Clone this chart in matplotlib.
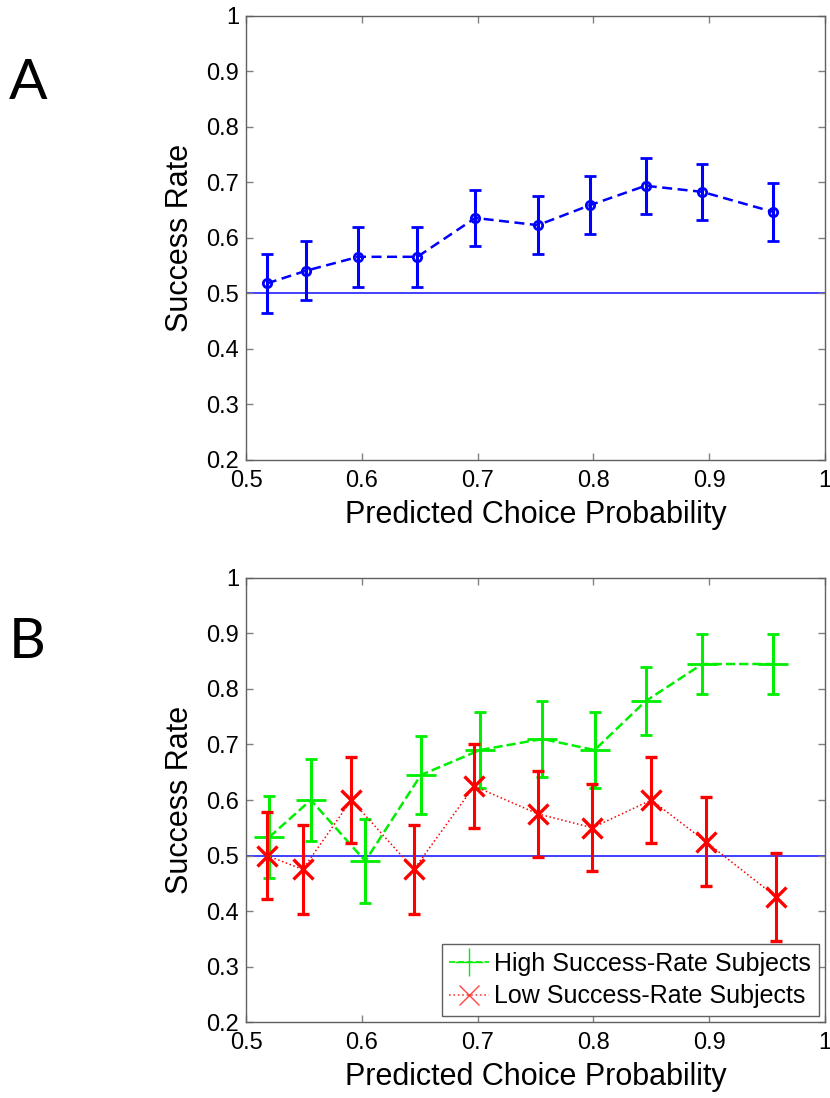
import numpy as np
import matplotlib
matplotlib.use("Agg")
import matplotlib.pyplot as plt
from matplotlib.lines import Line2D
from matplotlib.ticker import FuncFormatter

plt.rcParams['font.family'] = ['Liberation Sans', 'DejaVu Sans']

# -------------------------------
# Panel A: all subjects
# -------------------------------
x_all = [0.518, 0.552, 0.597, 0.648, 0.698, 0.752, 0.797, 0.845, 0.894, 0.955]
y_all = [0.518, 0.541, 0.566, 0.566, 0.636, 0.623, 0.659, 0.694, 0.683, 0.647]
err_all = [0.053, 0.053, 0.054, 0.054, 0.051, 0.052, 0.052, 0.050, 0.050, 0.052]

# -------------------------------
# Panel B: high / low success-rate subjects
# -------------------------------
x_high = [0.520, 0.556, 0.603, 0.651, 0.702, 0.756, 0.801, 0.845, 0.894, 0.955]
y_high = [0.533, 0.600, 0.490, 0.645, 0.690, 0.710, 0.690, 0.778, 0.845, 0.845]
err_high = [0.074, 0.073, 0.075, 0.071, 0.069, 0.068, 0.069, 0.061, 0.054, 0.054]

x_low = [0.518, 0.549, 0.591, 0.645, 0.697, 0.752, 0.799, 0.850, 0.897, 0.958]
y_low = [0.500, 0.475, 0.600, 0.475, 0.625, 0.575, 0.550, 0.600, 0.525, 0.425]
err_low = [0.079, 0.080, 0.077, 0.080, 0.076, 0.078, 0.078, 0.077, 0.080, 0.079]

xticks = [0.5, 0.6, 0.7, 0.8, 0.9, 1.0]
yticks = [0.2, 0.3, 0.4, 0.5, 0.6, 0.7, 0.8, 0.9, 1.0]
chance = 0.5

fig = plt.figure(figsize=(8.3, 10.98), dpi=100)
axA = fig.add_axes([0.2964, 0.5811, 0.6976, 0.4044])
axB = fig.add_axes([0.2964, 0.0692, 0.6976, 0.4044])


def style_axes(ax):
    ax.set_xlim(0.5, 1.0)
    ax.set_ylim(0.2, 1.0)
    ax.set_xticks(xticks)
    ax.set_yticks(yticks)
    fmt = FuncFormatter(lambda v, p: '%g' % round(v, 2))
    ax.xaxis.set_major_formatter(fmt)
    ax.yaxis.set_major_formatter(fmt)
    ax.tick_params(direction='in', length=5, width=1, color='#808080',
                   top=True, right=True, labelsize=17)
    ax.tick_params(axis='x', pad=7)
    ax.tick_params(axis='y', pad=5)
    for s in ax.spines.values():
        s.set_color('#606060')
        s.set_linewidth(1)
    ax.axhline(chance, color='#2020ff', lw=1.2, zorder=1)
    ax.set_xlabel('Predicted Choice Probability', fontsize=22, labelpad=6)
    ax.set_ylabel('Success Rate', fontsize=22, labelpad=8)


style_axes(axA)
axA.errorbar(x_all, y_all, yerr=err_all, fmt='o', ls=(0, (4, 2.2)), color='#0000ff',
             lw=1.8, ms=6, mfc='none', mew=2, elinewidth=2.2,
             capsize=4.5, capthick=2.2, zorder=3)

style_axes(axB)
axB.errorbar(x_high, y_high, yerr=err_high, fmt='+--', color='#00ee00',
             lw=1.8, ms=22, mew=2, elinewidth=2.2,
             capsize=4, capthick=2.2, zorder=3)
axB.errorbar(x_low, y_low, yerr=err_low, fmt='x:', color='#ff0000',
             lw=1.1, ms=14, mew=2.4, elinewidth=2.2,
             capsize=4, capthick=2.2, zorder=4)

# legend proxies (thin markers like the original)
h_hi = Line2D([], [], color='#00ee00', ls='--', lw=1.2, marker='+', ms=20, mew=1)
h_lo = Line2D([], [], color='#ff4444', ls=':', lw=1.2, marker='x', ms=14, mew=1)
leg = axB.legend(handles=[h_hi, h_lo],
                 labels=['High Success-Rate Subjects', 'Low Success-Rate Subjects'],
                 loc='lower right', fontsize=18, borderaxespad=0.25,
                 handlelength=1.6, handletextpad=0.2, labelspacing=0.35,
                 fancybox=False, framealpha=1, borderpad=0.3)
leg.get_frame().set_edgecolor('#606060')
leg.get_frame().set_linewidth(1)

# panel letters
fig.text(9 / 830, 1 - 99 / 1098, 'A', fontsize=41, family=['Lato', 'DejaVu Sans'],
         va='baseline', ha='left')
fig.text(9 / 830, 1 - 658 / 1098, 'B', fontsize=41, family=['Lato', 'DejaVu Sans'],
         va='baseline', ha='left')

fig.savefig('out.png', dpi=100)
